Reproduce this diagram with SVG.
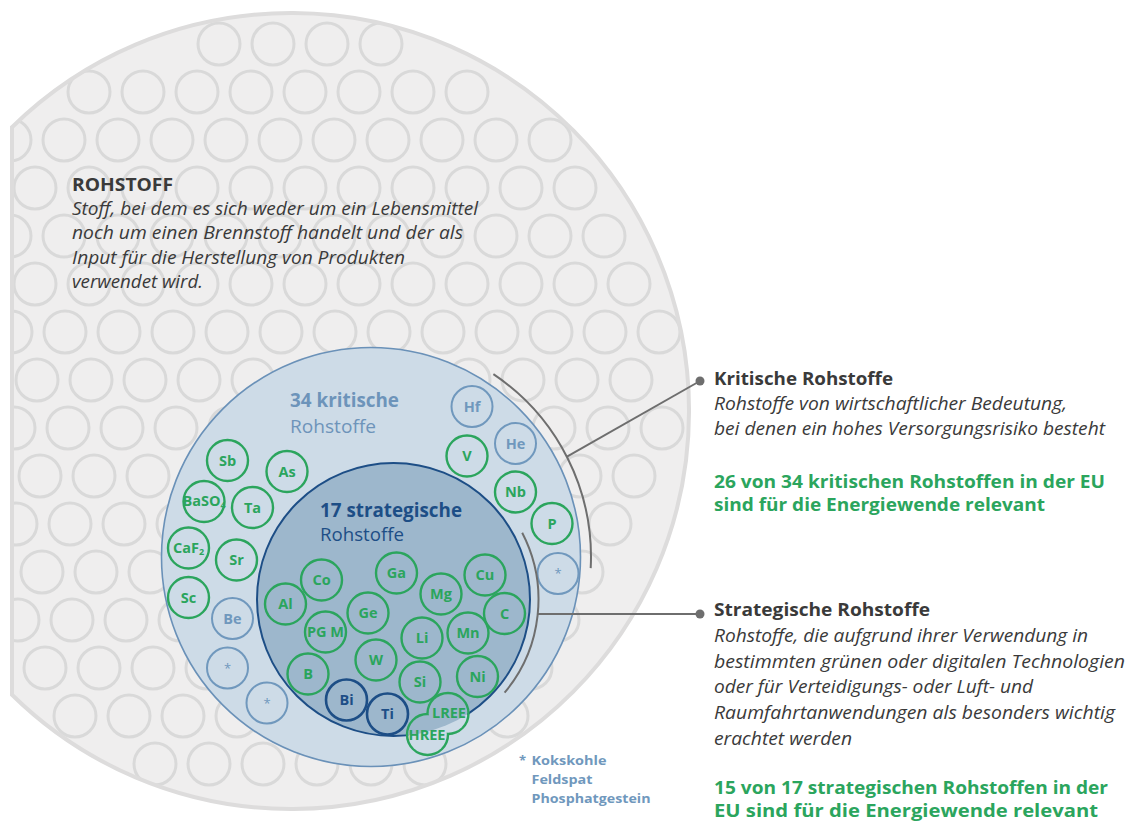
<svg xmlns="http://www.w3.org/2000/svg" width="1129" height="821" viewBox="0 0 1129 821">
<style>
.pc{fill:none;stroke:#d9d9d9;stroke-width:3}
.g{fill:none;stroke:#2ba55d;stroke-width:2.4}
.gb{fill:none;stroke:#7098bd;stroke-width:2}
.db{fill:none;stroke:#1d4e86;stroke-width:2.6}
.lab{font-family:"Open Sans","Noto Sans",sans-serif;font-weight:700;font-size:14.5px;text-anchor:middle}
.lg{fill:#2ba55d}
.lb{fill:#7098bd}
.ld{fill:#1d4e86}
.ast{font-family:"Open Sans","Noto Sans",sans-serif;font-size:13px;text-anchor:middle;fill:#7098bd}
.t{font-family:"Open Sans","Noto Sans",sans-serif;fill:#3a3a3a}
.h{font-weight:700;font-size:18px}
.i{font-style:italic;font-size:18px}
.gr{font-family:"Open Sans","Noto Sans",sans-serif;font-weight:700;font-size:18px;fill:#2ba55d}
.conn{fill:none;stroke:#6e6e6e;stroke-width:2}
.fn{font-family:"Open Sans","Noto Sans",sans-serif;font-weight:700;font-size:13px;fill:#7098bd}
</style>
<defs>
<clipPath id="bigclip"><path d="M12 127.2 A398 398 0 1 1 12 694.8 Z"/></clipPath>
<mask id="reeMask" maskUnits="userSpaceOnUse" x="0" y="0" width="1129" height="821">
<rect x="0" y="0" width="1129" height="821" fill="#fff"/>
<circle cx="448" cy="713.5" r="19.3" fill="#000"/>
<circle cx="427.5" cy="734.5" r="19.3" fill="#000"/>
</mask>
</defs>

<g id="rohstoff">
<path d="M12 127.2 A398 398 0 1 1 12 694.8 Z" fill="#efeeee"/>
<g clip-path="url(#bigclip)">
<g transform="translate(0,44)"><circle class="pc" cx="219" r="21"/><circle class="pc" cx="273" r="21"/><circle class="pc" cx="327" r="21"/><circle class="pc" cx="381" r="21"/></g>
<g transform="translate(35,92)"><circle class="pc" cx="54" r="21"/><circle class="pc" cx="108" r="21"/><circle class="pc" cx="162" r="21"/><circle class="pc" cx="216" r="21"/><circle class="pc" cx="270" r="21"/><circle class="pc" cx="324" r="21"/><circle class="pc" cx="378" r="21"/><circle class="pc" cx="432" r="21"/></g>
<g transform="translate(10,140)"><circle class="pc" cx="0" r="21"/><circle class="pc" cx="54" r="21"/><circle class="pc" cx="108" r="21"/><circle class="pc" cx="162" r="21"/><circle class="pc" cx="216" r="21"/><circle class="pc" cx="270" r="21"/><circle class="pc" cx="324" r="21"/><circle class="pc" cx="378" r="21"/><circle class="pc" cx="432" r="21"/><circle class="pc" cx="486" r="21"/><circle class="pc" cx="540" r="21"/></g>
<g transform="translate(35,188)"><circle class="pc" cx="0" r="21"/><circle class="pc" cx="54" r="21"/><circle class="pc" cx="108" r="21"/><circle class="pc" cx="162" r="21"/><circle class="pc" cx="216" r="21"/><circle class="pc" cx="270" r="21"/><circle class="pc" cx="324" r="21"/><circle class="pc" cx="378" r="21"/><circle class="pc" cx="432" r="21"/><circle class="pc" cx="486" r="21"/><circle class="pc" cx="540" r="21"/></g>
<g transform="translate(10,236)"><circle class="pc" cx="0" r="21"/><circle class="pc" cx="54" r="21"/><circle class="pc" cx="108" r="21"/><circle class="pc" cx="162" r="21"/><circle class="pc" cx="216" r="21"/><circle class="pc" cx="270" r="21"/><circle class="pc" cx="324" r="21"/><circle class="pc" cx="378" r="21"/><circle class="pc" cx="432" r="21"/><circle class="pc" cx="486" r="21"/><circle class="pc" cx="540" r="21"/><circle class="pc" cx="594" r="21"/></g>
<g transform="translate(35,284)"><circle class="pc" cx="0" r="21"/><circle class="pc" cx="54" r="21"/><circle class="pc" cx="108" r="21"/><circle class="pc" cx="162" r="21"/><circle class="pc" cx="216" r="21"/><circle class="pc" cx="270" r="21"/><circle class="pc" cx="324" r="21"/><circle class="pc" cx="378" r="21"/><circle class="pc" cx="432" r="21"/><circle class="pc" cx="486" r="21"/><circle class="pc" cx="540" r="21"/><circle class="pc" cx="594" r="21"/></g>
<g transform="translate(11,332)"><circle class="pc" cx="0" r="21"/><circle class="pc" cx="54" r="21"/><circle class="pc" cx="108" r="21"/><circle class="pc" cx="162" r="21"/><circle class="pc" cx="216" r="21"/><circle class="pc" cx="270" r="21"/><circle class="pc" cx="324" r="21"/><circle class="pc" cx="378" r="21"/><circle class="pc" cx="432" r="21"/><circle class="pc" cx="486" r="21"/><circle class="pc" cx="540" r="21"/><circle class="pc" cx="594" r="21"/><circle class="pc" cx="648" r="21"/></g>
<g transform="translate(37,380)"><circle class="pc" cx="0" r="21"/><circle class="pc" cx="54" r="21"/><circle class="pc" cx="108" r="21"/><circle class="pc" cx="162" r="21"/><circle class="pc" cx="216" r="21"/><circle class="pc" cx="270" r="21"/><circle class="pc" cx="324" r="21"/><circle class="pc" cx="378" r="21"/><circle class="pc" cx="432" r="21"/><circle class="pc" cx="486" r="21"/><circle class="pc" cx="540" r="21"/><circle class="pc" cx="594" r="21"/></g>
<g transform="translate(14,428)"><circle class="pc" cx="0" r="21"/><circle class="pc" cx="54" r="21"/><circle class="pc" cx="108" r="21"/><circle class="pc" cx="162" r="21"/><circle class="pc" cx="216" r="21"/><circle class="pc" cx="270" r="21"/><circle class="pc" cx="324" r="21"/><circle class="pc" cx="378" r="21"/><circle class="pc" cx="432" r="21"/><circle class="pc" cx="486" r="21"/><circle class="pc" cx="540" r="21"/><circle class="pc" cx="594" r="21"/><circle class="pc" cx="648" r="21"/></g>
<g transform="translate(40,476)"><circle class="pc" cx="0" r="21"/><circle class="pc" cx="54" r="21"/><circle class="pc" cx="108" r="21"/><circle class="pc" cx="162" r="21"/><circle class="pc" cx="216" r="21"/><circle class="pc" cx="270" r="21"/><circle class="pc" cx="324" r="21"/><circle class="pc" cx="378" r="21"/><circle class="pc" cx="432" r="21"/><circle class="pc" cx="486" r="21"/><circle class="pc" cx="540" r="21"/><circle class="pc" cx="594" r="21"/></g>
<g transform="translate(16,524)"><circle class="pc" cx="0" r="21"/><circle class="pc" cx="54" r="21"/><circle class="pc" cx="108" r="21"/><circle class="pc" cx="162" r="21"/><circle class="pc" cx="216" r="21"/><circle class="pc" cx="270" r="21"/><circle class="pc" cx="324" r="21"/><circle class="pc" cx="378" r="21"/><circle class="pc" cx="432" r="21"/><circle class="pc" cx="486" r="21"/><circle class="pc" cx="540" r="21"/><circle class="pc" cx="594" r="21"/></g>
<g transform="translate(42,572)"><circle class="pc" cx="0" r="21"/><circle class="pc" cx="54" r="21"/><circle class="pc" cx="108" r="21"/><circle class="pc" cx="162" r="21"/><circle class="pc" cx="216" r="21"/><circle class="pc" cx="270" r="21"/><circle class="pc" cx="324" r="21"/><circle class="pc" cx="378" r="21"/><circle class="pc" cx="432" r="21"/><circle class="pc" cx="486" r="21"/><circle class="pc" cx="540" r="21"/></g>
<g transform="translate(18,620)"><circle class="pc" cx="0" r="21"/><circle class="pc" cx="54" r="21"/><circle class="pc" cx="108" r="21"/><circle class="pc" cx="162" r="21"/><circle class="pc" cx="216" r="21"/><circle class="pc" cx="270" r="21"/><circle class="pc" cx="324" r="21"/><circle class="pc" cx="378" r="21"/><circle class="pc" cx="432" r="21"/><circle class="pc" cx="486" r="21"/><circle class="pc" cx="540" r="21"/></g>
<g transform="translate(45,668)"><circle class="pc" cx="0" r="21"/><circle class="pc" cx="54" r="21"/><circle class="pc" cx="108" r="21"/><circle class="pc" cx="162" r="21"/><circle class="pc" cx="216" r="21"/><circle class="pc" cx="270" r="21"/><circle class="pc" cx="324" r="21"/><circle class="pc" cx="378" r="21"/><circle class="pc" cx="432" r="21"/><circle class="pc" cx="486" r="21"/></g>
<g transform="translate(21,716)"><circle class="pc" cx="54" r="21"/><circle class="pc" cx="108" r="21"/><circle class="pc" cx="162" r="21"/><circle class="pc" cx="216" r="21"/><circle class="pc" cx="270" r="21"/><circle class="pc" cx="324" r="21"/><circle class="pc" cx="378" r="21"/><circle class="pc" cx="432" r="21"/><circle class="pc" cx="486" r="21"/></g>
<g transform="translate(47,764)"><circle class="pc" cx="108" r="21"/><circle class="pc" cx="162" r="21"/><circle class="pc" cx="216" r="21"/><circle class="pc" cx="270" r="21"/><circle class="pc" cx="324" r="21"/><circle class="pc" cx="378" r="21"/></g>
</g>
<path d="M12 127.2 A398 398 0 1 1 12 694.8 Z" fill="none" stroke="#dddcdc" stroke-width="4"/>
<text class="t h" x="72" y="191" textLength="101" lengthAdjust="spacingAndGlyphs">ROHSTOFF</text>
<text class="t i" x="72" y="214.5" textLength="406" lengthAdjust="spacingAndGlyphs">Stoff, bei dem es sich weder um ein Lebensmittel</text>
<text class="t i" x="72" y="239" textLength="391" lengthAdjust="spacingAndGlyphs">noch um einen Brennstoff handelt und der als</text>
<text class="t i" x="72" y="263.5" textLength="333" lengthAdjust="spacingAndGlyphs">Input für die Herstellung von Produkten</text>
<text class="t i" x="72" y="287.5" textLength="131" lengthAdjust="spacingAndGlyphs">verwendet wird.</text>
</g>

<g id="kritisch">
<circle cx="371" cy="557" r="209.5" fill="#cddbe7" stroke="#6a91b8" stroke-width="1.6"/>
<text x="290" y="407" font-family="'Open Sans','Noto Sans',sans-serif" font-weight="700" font-size="19" fill="#6d94ba" textLength="109" lengthAdjust="spacingAndGlyphs">34 kritische</text>
<text x="290" y="432.5" font-family="'Open Sans','Noto Sans',sans-serif" font-size="19" fill="#6d94ba" textLength="86" lengthAdjust="spacingAndGlyphs">Rohstoffe</text>
</g>

<g id="strategisch">
<circle cx="393.5" cy="599.5" r="136.5" fill="#9db7cc"/>
<circle cx="393.5" cy="599.5" r="136.5" fill="none" stroke="#1d4e86" stroke-width="2" mask="url(#reeMask)"/>
<text x="320" y="516.5" font-family="'Open Sans','Noto Sans',sans-serif" font-weight="700" font-size="19" fill="#1d4e86" textLength="142" lengthAdjust="spacingAndGlyphs">17 strategische</text>
<text x="320" y="541" font-family="'Open Sans','Noto Sans',sans-serif" font-size="19" fill="#1d4e86" textLength="84" lengthAdjust="spacingAndGlyphs">Rohstoffe</text>
</g>

<g id="el-Hf"><circle class="gb" cx="472" cy="406.5" r="20.5"/><text class="lab lb" x="472" y="411.5">Hf</text></g>
<g id="el-He"><circle class="gb" cx="515.5" cy="443.5" r="20.5"/><text class="lab lb" x="515.5" y="448.5">He</text></g>
<g id="el-V"><circle class="g" cx="467" cy="456" r="20.5"/><text class="lab lg" x="467" y="461">V</text></g>
<g id="el-Nb"><circle class="g" cx="515.5" cy="492" r="20.5"/><text class="lab lg" x="515.5" y="497">Nb</text></g>
<g id="el-P"><circle class="g" cx="552" cy="523.5" r="20.5"/><text class="lab lg" x="552" y="528.5">P</text></g>
<g id="el-star1"><circle class="gb" cx="558" cy="573.5" r="20.5"/><text class="ast" x="558" y="578">*</text></g>
<g id="el-Sb"><circle class="g" cx="227.5" cy="460.5" r="20.5"/><text class="lab lg" x="227.5" y="465.5">Sb</text></g>
<g id="el-As"><circle class="g" cx="287" cy="471.5" r="20.5"/><text class="lab lg" x="287" y="476.5">As</text></g>
<g id="el-BaSO4"><circle class="g" cx="204" cy="501.5" r="20.5"/><text class="lab lg" x="204" y="506" font-size="14">BaSO<tspan font-size="9" dy="2">4</tspan></text></g>
<g id="el-Ta"><circle class="g" cx="252.5" cy="507.5" r="20.5"/><text class="lab lg" x="252.5" y="512.5">Ta</text></g>
<g id="el-CaF2"><circle class="g" cx="188.5" cy="548" r="20.5"/><text class="lab lg" x="188.5" y="553" font-size="14">CaF<tspan font-size="9" dy="2">2</tspan></text></g>
<g id="el-Sr"><circle class="g" cx="236.5" cy="560" r="20.5"/><text class="lab lg" x="236.5" y="565">Sr</text></g>
<g id="el-Sc"><circle class="g" cx="188.5" cy="597.5" r="20.5"/><text class="lab lg" x="188.5" y="602.5">Sc</text></g>
<g id="el-Be"><circle class="gb" cx="232.5" cy="618.5" r="20.5"/><text class="lab lb" x="232.5" y="623.5">Be</text></g>
<g id="el-star2"><circle class="gb" cx="227.5" cy="668" r="20.5"/><text class="ast" x="227.5" y="672.5">*</text></g>
<g id="el-star3"><circle class="gb" cx="267" cy="703" r="20.5"/><text class="ast" x="267" y="707.5">*</text></g>
<g id="el-Co"><circle class="g" cx="321.5" cy="580" r="20.5"/><text class="lab lg" x="321.5" y="585">Co</text></g>
<g id="el-Al"><circle class="g" cx="285.5" cy="604" r="20.5"/><text class="lab lg" x="285.5" y="609">Al</text></g>
<g id="el-Ga"><circle class="g" cx="396.5" cy="573" r="20.5"/><text class="lab lg" x="396.5" y="578">Ga</text></g>
<g id="el-Mg"><circle class="g" cx="441" cy="594" r="20.5"/><text class="lab lg" x="441" y="599">Mg</text></g>
<g id="el-Cu"><circle class="g" cx="485" cy="575" r="20.5"/><text class="lab lg" x="485" y="580">Cu</text></g>
<g id="el-C"><circle class="g" cx="504.5" cy="613.5" r="20.5"/><text class="lab lg" x="504.5" y="618.5">C</text></g>
<g id="el-Ge"><circle class="g" cx="368" cy="613" r="20.5"/><text class="lab lg" x="368" y="618">Ge</text></g>
<g id="el-PGM"><circle class="g" cx="325.5" cy="632" r="20.5"/><text class="lab lg" x="325.5" y="637" font-size="14">PG M</text></g>
<g id="el-Li"><circle class="g" cx="422" cy="638" r="20.5"/><text class="lab lg" x="422" y="643">Li</text></g>
<g id="el-Mn"><circle class="g" cx="468" cy="633" r="20.5"/><text class="lab lg" x="468" y="638">Mn</text></g>
<g id="el-W"><circle class="g" cx="376" cy="660" r="20.5"/><text class="lab lg" x="376" y="665">W</text></g>
<g id="el-B"><circle class="g" cx="308" cy="674" r="20.5"/><text class="lab lg" x="308" y="679">B</text></g>
<g id="el-Si"><circle class="g" cx="420" cy="682" r="20.5"/><text class="lab lg" x="420" y="687">Si</text></g>
<g id="el-Ni"><circle class="g" cx="477.5" cy="676.5" r="20.5"/><text class="lab lg" x="477.5" y="681.5">Ni</text></g>
<g id="el-Bi"><circle class="db" cx="346.5" cy="700" r="20.5"/><text class="lab ld" x="346.5" y="705">Bi</text></g>
<g id="el-Ti"><circle class="db" cx="387.5" cy="714" r="20.5"/><text class="lab ld" x="387.5" y="719">Ti</text></g>
<g id="el-REE">
<g mask="url(#reeMask)"><circle cx="448" cy="713.5" r="19.3" fill="none" stroke="#2ba55d" stroke-width="4.8"/><circle cx="427.5" cy="734.5" r="19.3" fill="none" stroke="#2ba55d" stroke-width="4.8"/></g>
<text class="lab lg" x="449" y="718" font-size="13.5">LREE</text>
<text class="lab lg" x="427" y="739.5" font-size="13.5">HREE</text>
</g>

<g id="connectors">
<path class="conn" d="M493.4 374.2 A220 220 0 0 1 590.7 568.1"/>
<path class="conn" d="M567 456.7 L700 381"/>
<circle cx="700" cy="381" r="4.5" fill="#6e6e6e"/>
<path class="conn" d="M522.2 532.8 A145 145 0 0 1 504.6 692.7"/>
<path class="conn" d="M537.8 614 L700 614"/>
<circle cx="700" cy="614" r="4.5" fill="#6e6e6e"/>
</g>

<g id="legend-kritisch">
<text class="t h" x="714" y="385" textLength="179" lengthAdjust="spacingAndGlyphs">Kritische Rohstoffe</text>
<text class="t i" x="714" y="410" textLength="353" lengthAdjust="spacingAndGlyphs">Rohstoffe von wirtschaftlicher Bedeutung,</text>
<text class="t i" x="714" y="435" textLength="391" lengthAdjust="spacingAndGlyphs">bei denen ein hohes Versorgungsrisiko besteht</text>
<text class="gr" x="714" y="488" textLength="391" lengthAdjust="spacingAndGlyphs">26 von 34 kritischen Rohstoffen in der EU</text>
<text class="gr" x="714" y="511" textLength="331" lengthAdjust="spacingAndGlyphs">sind für die Energiewende relevant</text>
</g>

<g id="legend-strategisch">
<text class="t h" x="714" y="616" textLength="216" lengthAdjust="spacingAndGlyphs">Strategische Rohstoffe</text>
<text class="t i" x="714" y="642" textLength="374" lengthAdjust="spacingAndGlyphs">Rohstoffe, die aufgrund ihrer Verwendung in</text>
<text class="t i" x="714" y="667.5" textLength="411" lengthAdjust="spacingAndGlyphs">bestimmten grünen oder digitalen Technologien</text>
<text class="t i" x="714" y="693" textLength="319" lengthAdjust="spacingAndGlyphs">oder für Verteidigungs- oder Luft- und</text>
<text class="t i" x="714" y="719" textLength="401" lengthAdjust="spacingAndGlyphs">Raumfahrtanwendungen als besonders wichtig</text>
<text class="t i" x="714" y="744.5" textLength="138" lengthAdjust="spacingAndGlyphs">erachtet werden</text>
<text class="gr" x="714" y="794" textLength="394" lengthAdjust="spacingAndGlyphs">15 von 17 strategischen Rohstoffen in der</text>
<text class="gr" x="714" y="817" textLength="384" lengthAdjust="spacingAndGlyphs">EU sind für die Energiewende relevant</text>
</g>

<g id="footnote">
<text class="fn" x="519" y="765">*</text>
<text class="fn" x="531.5" y="765" textLength="75" lengthAdjust="spacingAndGlyphs">Kokskohle</text>
<text class="fn" x="531.5" y="784" textLength="61" lengthAdjust="spacingAndGlyphs">Feldspat</text>
<text class="fn" x="531.5" y="803" textLength="119" lengthAdjust="spacingAndGlyphs">Phosphatgestein</text>
</g>
</svg>
